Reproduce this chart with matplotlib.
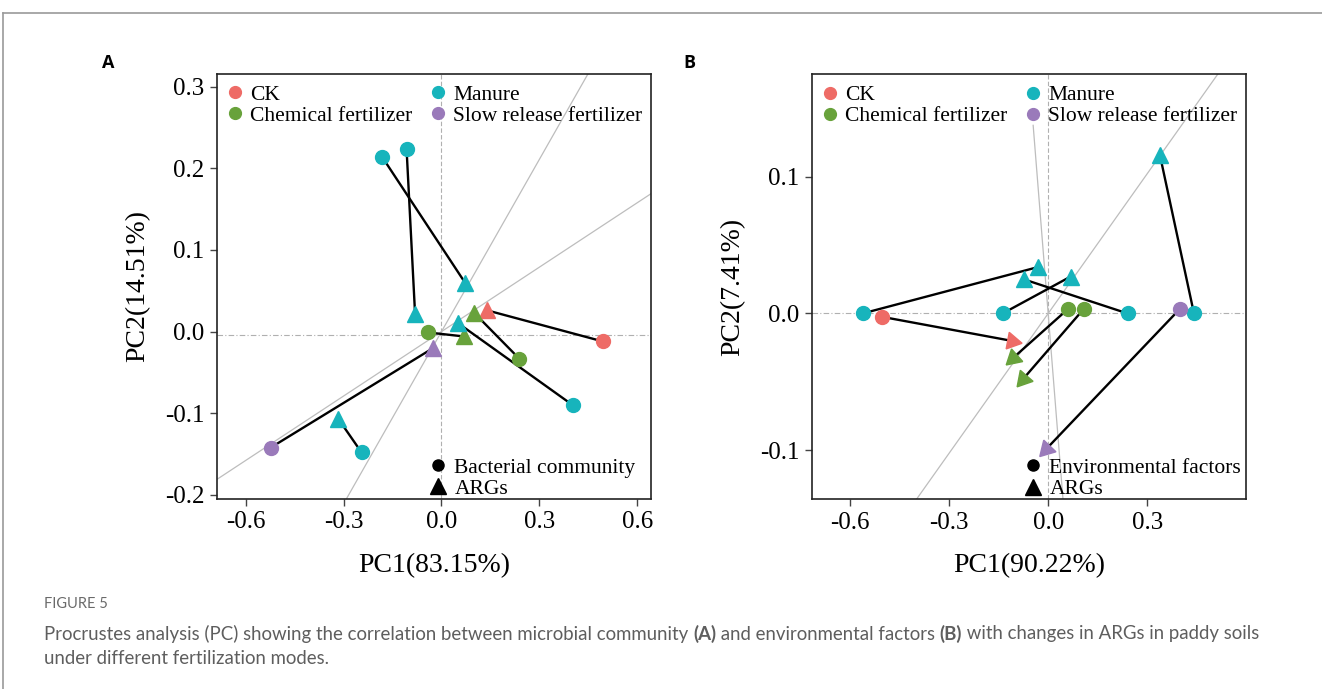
import matplotlib
matplotlib.use("Agg")
import matplotlib.pyplot as plt
import numpy as np
from matplotlib.lines import Line2D

plt.rcParams["font.family"] = ["Liberation Serif", "DejaVu Serif"]

# group colours
group_names = ["CK", "Chemical fertilizer", "Manure", "Slow release fertilizer"]
group_colors = {"CK": "#EE6B66", "Chemical fertilizer": "#68A23B",
                "Manure": "#17B4BC", "Slow release fertilizer": "#9A7ABA"}

# panel A: bacterial community (circles) vs ARGs (triangles)
a_groups = ["CK", "Chemical fertilizer", "Chemical fertilizer", "Manure",
            "Manure", "Manure", "Manure", "Slow release fertilizer"]
a_bac_x = [0.494, 0.238, -0.042, -0.182, -0.107, 0.402, -0.245, -0.523]
a_bac_y = [-0.012, -0.033, -0.001, 0.214, 0.2235, -0.090, -0.148, -0.142]
a_arg_x = [0.140, 0.100, 0.070, 0.072, -0.081, 0.052, -0.316, -0.025]
a_arg_y = [0.026, 0.023, -0.006, 0.060, 0.022, 0.010, -0.107, -0.020]
a_rot_slopes = [0.703, 0.263]
a_hline = -0.004

# panel B: environmental factors (circles) vs ARGs (triangles)
b_groups = ["CK", "Manure", "Manure", "Manure", "Manure",
            "Chemical fertilizer", "Chemical fertilizer", "Slow release fertilizer"]
b_env_x = [-0.502, -0.562, -0.138, 0.2405, 0.4415, 0.0606, 0.108, 0.399]
b_env_y = [-0.0025, 0.0, 0.0, 0.0, 0.0, 0.0034, 0.0034, 0.0034]
b_arg_x = [-0.111, -0.030, 0.068, -0.0727, 0.3385, -0.106, -0.076, -0.007]
b_arg_y = [-0.020, 0.034, 0.027, 0.0249, 0.1158, -0.0325, -0.048, -0.0995]
b_rot_slopes = [0.341, -3.03]
b_steep_ymax = 0.1377
b_hline = 0.0

ticks_a_x = [-0.6, -0.3, 0.0, 0.3, 0.6]
ticks_a_y = [-0.2, -0.1, 0.0, 0.1, 0.2, 0.3]
ticks_b_x = [-0.6, -0.3, 0.0, 0.3]
ticks_b_y = [-0.1, 0.0, 0.1]

W, H = 1322, 689
fig = plt.figure(figsize=(W / 100, H / 100), dpi=100)
axA = fig.add_axes([0.1639, 0.2758, 0.3285, 0.6168])
axB = fig.add_axes([0.6140, 0.2753, 0.3285, 0.6168])


def base_axes(ax, xlim, ylim, xt, yt, xlabel, ylabel, hline):
    ax.set_xlim(*xlim)
    ax.set_ylim(*ylim)
    ax.set_xticks(xt)
    ax.set_yticks(yt)
    ax.set_xticklabels([f"{v:.1f}" for v in xt])
    ax.set_yticklabels([f"{v:.1f}" for v in yt])
    ax.tick_params(labelsize=18, length=5, width=1, color="#444444", pad=4)
    for s in ax.spines.values():
        s.set_linewidth(1.2)
        s.set_color("#222222")
    ax.set_xlabel(xlabel, fontsize=20, labelpad=14)
    ax.set_ylabel(ylabel, fontsize=20, labelpad=10)
    ax.axhline(hline, color="#b0b0b0", lw=0.8, ls=(0, (5, 2, 1, 2)), zorder=1)
    ax.axvline(0, color="#b0b0b0", lw=0.8, ls=(0, (4, 2)), zorder=1)


def legends(ax, second_label):
    handles = [Line2D([], [], ls="none", marker="o", ms=8.5, color=group_colors[g], label=g)
               for g in group_names]
    leg1 = ax.legend(handles=handles, ncol=2, loc="upper left", frameon=False,
                     fontsize=15.5, handlelength=0.7, handletextpad=0.35,
                     columnspacing=0.85, labelspacing=0.05, borderaxespad=0.4,
                     borderpad=0.1)
    ax.add_artist(leg1)
    h2 = [Line2D([], [], ls="none", marker="o", ms=8, color="black", label=second_label),
          Line2D([], [], ls="none", marker="^", ms=11, color="black", label="ARGs")]
    leg2 = ax.legend(handles=h2, loc="lower left", bbox_to_anchor=(0.463, -0.03),
                     frameon=False, fontsize=15.5, handlelength=0.7,
                     handletextpad=0.4, labelspacing=0.05, borderpad=0.1)
    return leg2


# ---- panel A ----
base_axes(axA, (-0.689, 0.642), (-0.205, 0.3155), ticks_a_x, ticks_a_y,
          "PC1(83.15%)", "PC2(14.51%)", a_hline)
for m in a_rot_slopes:
    axA.axline((0, 0), slope=m, color="#bdbdbd", lw=0.9, zorder=1)
for i, g in enumerate(a_groups):
    axA.plot([a_bac_x[i], a_arg_x[i]], [a_bac_y[i], a_arg_y[i]], color="black", lw=1.7, zorder=2)
for i, g in enumerate(a_groups):
    axA.plot(a_bac_x[i], a_bac_y[i], "o", ms=10, color=group_colors[g], zorder=3)
    axA.plot(a_arg_x[i], a_arg_y[i], "^", ms=11, color=group_colors[g], zorder=3)
legends(axA, "Bacterial community")

# ---- panel B ----
base_axes(axB, (-0.716, 0.599), (-0.136, 0.175), ticks_b_x, ticks_b_y,
          "PC1(90.22%)", "PC2(7.41%)", b_hline)
axB.axline((0, 0), slope=b_rot_slopes[0], color="#bdbdbd", lw=0.9, zorder=1)
ys = np.array([-0.136, b_steep_ymax])
axB.plot(ys / b_rot_slopes[1], ys, color="#bdbdbd", lw=0.9, zorder=1)
for i, g in enumerate(b_groups):
    axB.plot([b_env_x[i], b_arg_x[i]], [b_env_y[i], b_arg_y[i]], color="black", lw=1.7, zorder=2)
fig.canvas.draw()
for i, g in enumerate(b_groups):
    axB.plot(b_env_x[i], b_env_y[i], "o", ms=10, color=group_colors[g], zorder=3)
    if g == "Manure":
        axB.plot(b_arg_x[i], b_arg_y[i], "^", ms=11, color=group_colors[g], zorder=3)
    else:
        # arrow-like head pointing along the segment
        p0 = axB.transData.transform((b_env_x[i], b_env_y[i]))
        p1 = axB.transData.transform((b_arg_x[i], b_arg_y[i]))
        ang = np.degrees(np.arctan2(p1[1] - p0[1], p1[0] - p0[0])) - 90
        axB.plot(b_arg_x[i], b_arg_y[i], marker=(3, 0, ang), ls="none", ms=14,
                 color=group_colors[g], zorder=3)
legends(axB, "Environmental factors")

# panel letters
fig.text(108 / W, 1 - 63 / H, "A", fontsize=13, fontweight="bold", family="Open Sans",
         ha="center", va="center")
fig.text(689 / W, 1 - 63 / H, "B", fontsize=13, fontweight="bold", family="Open Sans",
         ha="center", va="center")

# frame lines around the figure area
fig.add_artist(Line2D([3 / W, 1], [1 - 13 / H, 1 - 13 / H], color="#9a9a9a", lw=1.2))
fig.add_artist(Line2D([3 / W, 3 / W], [0, 1 - 13 / H], color="#9a9a9a", lw=1.2))

# caption
cap_color = "#5e5e5e"
fig.text(44 / W, 1 - 604 / H, "FIGURE 5", fontsize=10.5, family="Lato", color="#6a6a6a",
         va="center")
runs = [("Procrustes analysis (PC) showing the correlation between microbial community ", "normal"),
        ("(A)", "bold"),
        (" and environmental factors ", "normal"),
        ("(B)", "bold"),
        (" with changes in ARGs in paddy soils", "normal")]
renderer = fig.canvas.get_renderer()
x = 44 / W
for txt, wt in runs:
    t = fig.text(x, 1 - 634 / H, txt, fontsize=13.45, family="Lato", color=cap_color,
                 fontweight=wt, va="center")
    bb = t.get_window_extent(renderer)
    x += bb.width / W
fig.text(44 / W, 1 - 659 / H, "under different fertilization modes.", fontsize=13.45,
         family="Lato", color=cap_color, va="center")

fig.savefig("out.png", dpi=100)
